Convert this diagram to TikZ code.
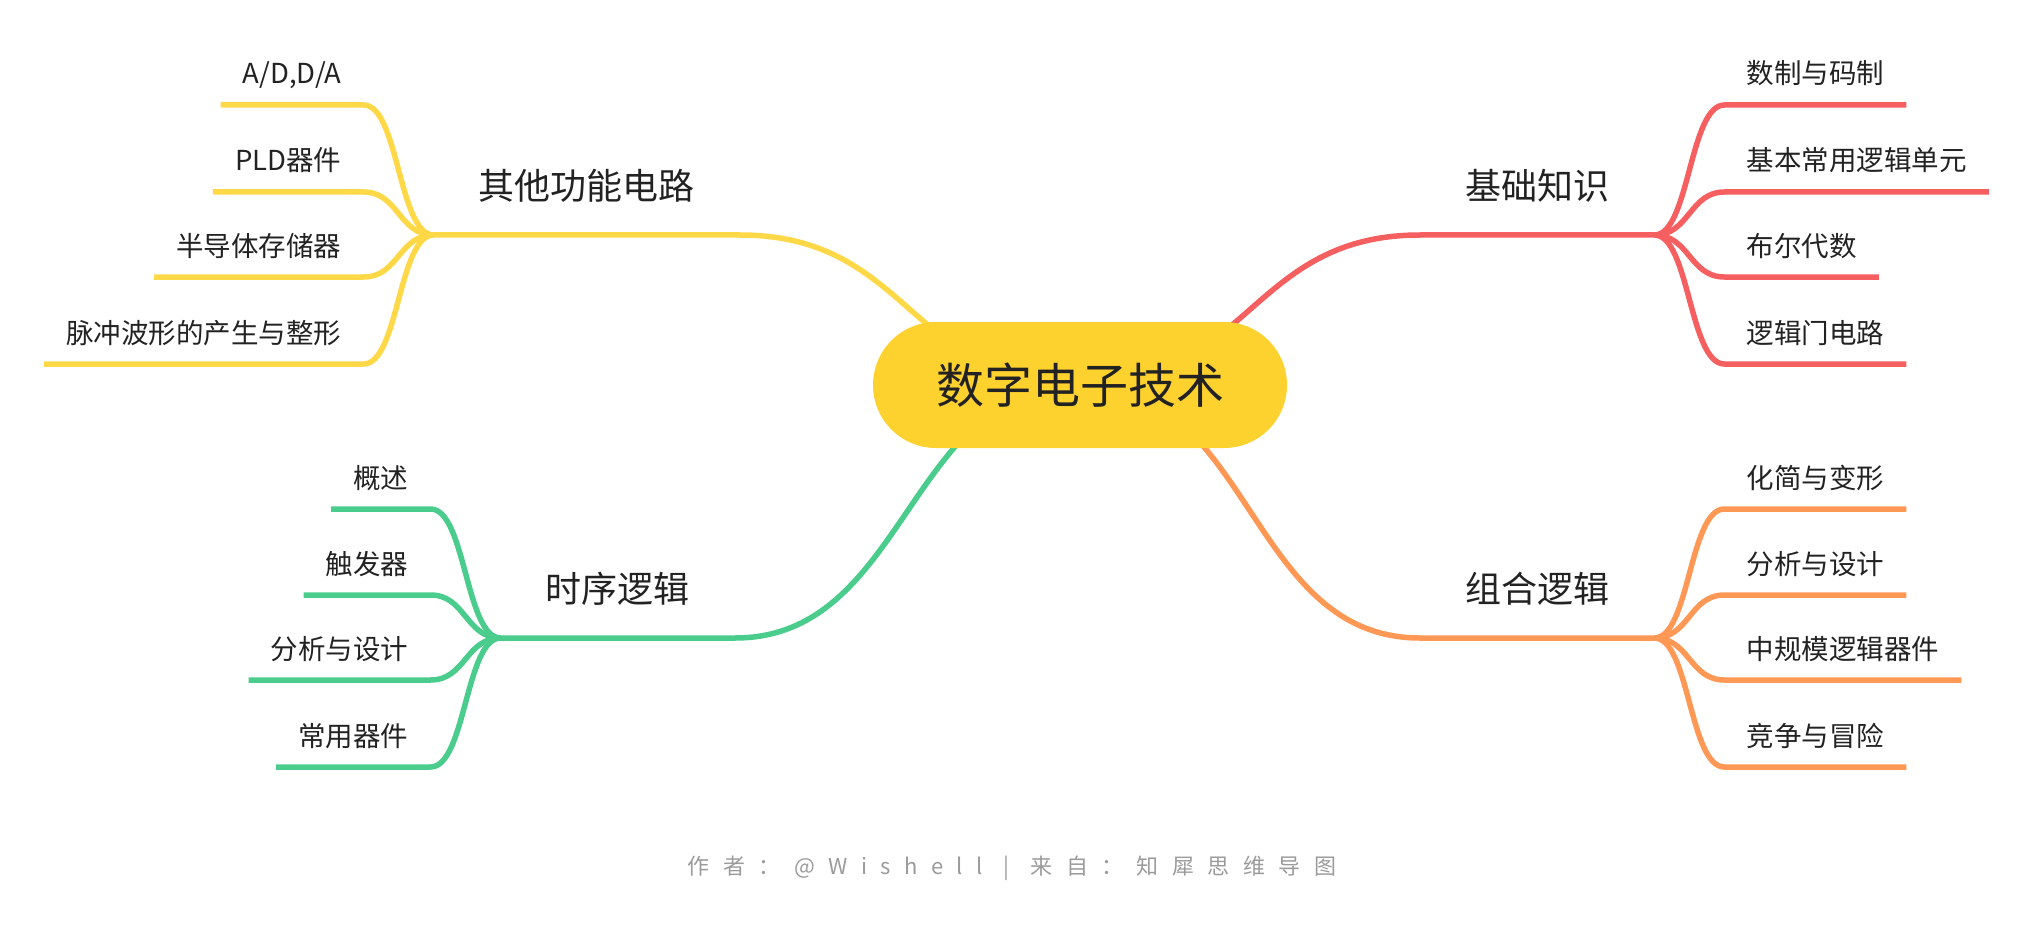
\documentclass[tikz,border=0pt]{standalone}
\usepackage{fontspec}
\setmainfont{Noto Sans CJK SC}
\newfontfamily\footfont[LetterSpace=61]{Noto Sans CJK SC}
\usetikzlibrary{calc}

\definecolor{txt}{RGB}{34,34,34}
\definecolor{footgray}{RGB}{155,155,155}
\definecolor{rootyellow}{RGB}{253,209,46}
\definecolor{lineyellow}{RGB}{255,216,72}
\definecolor{linered}{RGB}{245,95,95}
\definecolor{lineorange}{RGB}{255,152,84}
\definecolor{linegreen}{RGB}{74,204,140}

\begin{document}
\begin{tikzpicture}[x=1pt, y=-1pt,
                    rootnode/.style={fill=rootyellow, rounded corners=63pt, minimum width=414pt,
                                     minimum height=126pt, inner sep=0pt, text=txt,
                                     font=\fontsize{48pt}{54pt}\selectfont},
                    topic/.style={inner xsep=45pt, inner ysep=31pt, text height=31.7pt, text depth=4.3pt,
                                  text=txt, font=\fontsize{36pt}{40pt}\selectfont},
                    sub/.style={inner xsep=22pt, inner ysep=17.5pt, text height=24.2pt, text depth=3.3pt,
                                text=txt, font=\fontsize{27.5pt}{30pt}\selectfont},
                    branch/.style={line width=5.5pt, line join=round}]
  \useasboundingbox (0,0) rectangle (2032,928);
  \coordinate (o) at (1080,384);

  % right side
  \node[topic, anchor=south west] (jc) at (1420,235) {基础知识};
  \node[sub, anchor=south west] (jc1) at ($(jc.south east)+(70,-130)$) {数制与码制};
  \node[sub, anchor=south west] (jc2) at ($(jc.south east)+(70,-43)$) {基本常用逻辑单元};
  \node[sub, anchor=south west] (jc3) at ($(jc.south east)+(70,42)$) {布尔代数};
  \node[sub, anchor=south west] (jc4) at ($(jc.south east)+(70,129)$) {逻辑门电路};

  \node[topic, anchor=south west] (zh) at (1420,638) {组合逻辑};
  \node[sub, anchor=south west] (zh1) at ($(zh.south east)+(70,-129)$) {化简与变形};
  \node[sub, anchor=south west] (zh2) at ($(zh.south east)+(70,-43)$) {分析与设计};
  \node[sub, anchor=south west] (zh3) at ($(zh.south east)+(70,42)$) {中规模逻辑器件};
  \node[sub, anchor=south west] (zh4) at ($(zh.south east)+(70,129)$) {竞争与冒险};

  % left side
  \node[topic, anchor=south east] (qt) at (740,235) {其他功能电路};
  \node[sub, anchor=south east] (qt1) at ($(qt.south west)+(-70,-130)$) {A/D,D/A};
  \node[sub, anchor=south east] (qt2) at ($(qt.south west)+(-70,-43)$) {PLD器件};
  \node[sub, anchor=south east] (qt3) at ($(qt.south west)+(-70,42)$) {半导体存储器};
  \node[sub, anchor=south east] (qt4) at ($(qt.south west)+(-70,129)$) {脉冲波形的产生与整形};

  \node[topic, anchor=south east] (sx) at (735,638) {时序逻辑};
  \node[sub, anchor=south east] (sx1) at ($(sx.south west)+(-70,-129)$) {概述};
  \node[sub, anchor=south east] (sx2) at ($(sx.south west)+(-70,-43)$) {触发器};
  \node[sub, anchor=south east] (sx3) at ($(sx.south west)+(-70,42)$) {分析与设计};
  \node[sub, anchor=south east] (sx4) at ($(sx.south west)+(-70,129)$) {常用器件};

  % connectors
  \draw[branch, draw=linered] (o) .. controls +(170,0) and +(-170,0) .. (jc.south west) -- (jc.south east);
  \draw[branch, draw=linered] (jc.south east) .. controls +(35,0) and +(-35,0) .. (jc1.south west) -- (jc1.south east);
  \draw[branch, draw=linered] (jc.south east) .. controls +(35,0) and +(-35,0) .. (jc2.south west) -- (jc2.south east);
  \draw[branch, draw=linered] (jc.south east) .. controls +(35,0) and +(-35,0) .. (jc3.south west) -- (jc3.south east);
  \draw[branch, draw=linered] (jc.south east) .. controls +(35,0) and +(-35,0) .. (jc4.south west) -- (jc4.south east);

  \draw[branch, draw=lineorange] (o) .. controls +(172,0) and +(-172,0) .. (zh.south west) -- (zh.south east);
  \draw[branch, draw=lineorange] (zh.south east) .. controls +(35,0) and +(-35,0) .. (zh1.south west) -- (zh1.south east);
  \draw[branch, draw=lineorange] (zh.south east) .. controls +(35,0) and +(-35,0) .. (zh2.south west) -- (zh2.south east);
  \draw[branch, draw=lineorange] (zh.south east) .. controls +(35,0) and +(-35,0) .. (zh3.south west) -- (zh3.south east);
  \draw[branch, draw=lineorange] (zh.south east) .. controls +(35,0) and +(-35,0) .. (zh4.south west) -- (zh4.south east);

  \draw[branch, draw=lineyellow] (o) .. controls +(-170,0) and +(170,0) .. (qt.south east) -- (qt.south west);
  \draw[branch, draw=lineyellow] (qt.south west) .. controls +(-35,0) and +(35,0) .. (qt1.south east) -- (qt1.south west);
  \draw[branch, draw=lineyellow] (qt.south west) .. controls +(-35,0) and +(35,0) .. (qt2.south east) -- (qt2.south west);
  \draw[branch, draw=lineyellow] (qt.south west) .. controls +(-35,0) and +(35,0) .. (qt3.south east) -- (qt3.south west);
  \draw[branch, draw=lineyellow] (qt.south west) .. controls +(-35,0) and +(35,0) .. (qt4.south east) -- (qt4.south west);

  \draw[branch, draw=linegreen] (o) .. controls +(-172,0) and +(172,0) .. (sx.south east) -- (sx.south west);
  \draw[branch, draw=linegreen] (sx.south west) .. controls +(-35,0) and +(35,0) .. (sx1.south east) -- (sx1.south west);
  \draw[branch, draw=linegreen] (sx.south west) .. controls +(-35,0) and +(35,0) .. (sx2.south east) -- (sx2.south west);
  \draw[branch, draw=linegreen] (sx.south west) .. controls +(-35,0) and +(35,0) .. (sx3.south east) -- (sx3.south west);
  \draw[branch, draw=linegreen] (sx.south west) .. controls +(-35,0) and +(35,0) .. (sx4.south east) -- (sx4.south west);

  % centre topic on top of the curves
  \node[rootnode] (root) at (1080,385) {数字电子技术};

  \node[text=footgray, font=\footfont\fontsize{22pt}{24pt}\selectfont] (foot) at (1012,868)
    {作者：@Wishell\hbox to 48pt{\hss|\hss}来自：知犀思维导图};
\end{tikzpicture}
\end{document}
